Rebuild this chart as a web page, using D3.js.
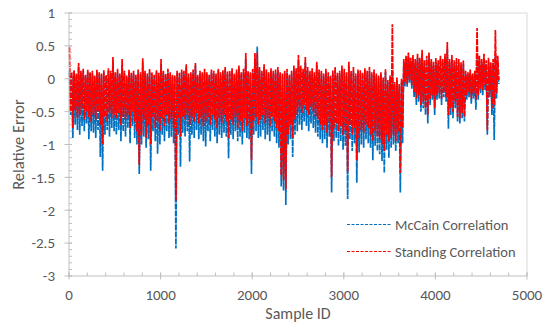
<!DOCTYPE html>
<html>
<head>
<meta charset="utf-8">
<script src="https://cdn.jsdelivr.net/npm/d3@7"></script>
<style>
  body { margin: 0; background: #fff; }
  text { font-family: Carlito, Lato, "Open Sans", sans-serif; fill: #595959; }
</style>
</head>
<body>
<svg id="chart"></svg>
<script>
// sample IDs at the start of each 25-sample bin (0 .. 4675)
const sampleIds = d3.range(0, 4700, 25);

// upper / lower edge of each series inside every bin
const standingHi = [
  0.48, 0.10, 0.13, 0.08, 0.24, 0.12, 0.15, 0.06, 0.14, 0.10,
  0.12, 0.05, 0.14, 0.10, 0.08, 0.13, 0.06, 0.16, 0.12, 0.33,
  0.10, 0.15, 0.08, 0.30, 0.12, 0.05, 0.14, 0.09, 0.12, 0.06,
  0.14, 0.10, 0.31, 0.12, 0.08, 0.15, 0.10, 0.06, 0.13, 0.09,
  0.30, 0.12, 0.08, 0.15, 0.10, 0.06, 0.05, 0.12, 0.09, 0.14,
  0.12, 0.22, 0.08, 0.10, 0.14, 0.24, 0.06, 0.12, 0.10, 0.15,
  0.10, 0.06, 0.14, 0.12, 0.08, 0.15, 0.10, 0.13, 0.18, 0.11,
  0.12, 0.16, 0.08, 0.14, 0.20, 0.10, 0.15, 0.39, 0.12, 0.10,
  0.15, 0.39, 0.40, 0.18, 0.12, 0.22, 0.14, 0.10, 0.16, 0.12,
  0.14, 0.18, 0.10, 0.08, 0.12, 0.15, 0.06, 0.12, 0.20, 0.16,
  0.36, 0.20, 0.15, 0.33, 0.18, 0.12, 0.16, 0.10, 0.26, 0.14,
  0.12, 0.08, 0.15, 0.10, 0.05, 0.13, 0.18, 0.09, 0.12, 0.20,
  0.15, 0.10, 0.26, 0.12, 0.18, 0.08, 0.14, 0.13, 0.10, 0.16,
  0.12, 0.18, 0.10, 0.14, 0.08, 0.05, 0.10, 0.02, 0.15, -0.02,
  0.05, 0.83, -0.05, 0.02, -0.08, 0.00, 0.30, 0.35, 0.40, 0.32,
  0.36, 0.30, 0.38, 0.32, 0.44, 0.28, 0.35, 0.40, 0.30, 0.26,
  0.32, 0.28, 0.35, 0.30, 0.38, 0.56, 0.30, 0.36, 0.28, 0.32,
  0.30, 0.25, 0.28, 0.12, 0.10, 0.14, 0.08, 0.12, 0.77, 0.35,
  0.30, 0.38, 0.28, 0.32, 0.25, 0.30, 0.74, 0.35
];
const standingLo = [
  -0.50, -0.75, -0.48, -0.60, -0.55, -0.45, -0.62, -0.50, -0.58, -0.66,
  -0.55, -0.62, -0.50, -0.70, -1.00, -0.58, -0.65, -0.52, -0.60, -0.55,
  -0.60, -0.52, -0.70, -0.58, -0.62, -0.55, -0.75, -0.50, -0.65, -0.80,
  -1.31, -0.85, -0.62, -0.90, -0.70, -1.00, -0.58, -0.75, -0.65, -0.80,
  -0.60, -0.72, -0.55, -0.68, -0.62, -0.75, -1.85, -0.60, -0.88, -0.58,
  -0.62, -0.55, -0.70, -0.58, -0.65, -0.52, -0.68, -0.60, -0.72, -0.65,
  -0.58, -0.70, -0.55, -0.62, -0.75, -0.60, -0.68, -0.55, -0.65, -0.90,
  -0.62, -0.70, -0.58, -0.75, -0.65, -0.80, -0.60, -0.72, -0.68, -1.24,
  -0.65, -0.58, -0.70, -0.62, -0.55, -0.68, -0.60, -0.72, -0.58, -0.65,
  -0.75, -0.80, -1.47, -1.54, -1.68, -0.85, -0.70, -0.90, -0.62, -0.55,
  -0.45, -0.52, -0.40, -0.48, -0.55, -0.42, -0.50, -0.58, -0.62, -0.70,
  -0.78, -0.70, -0.82, -0.65, -1.50, -0.75, -0.68, -0.80, -0.72, -0.85,
  -0.80, -1.41, -0.70, -0.85, -0.75, -1.24, -0.90, -0.78, -0.82, -0.70,
  -0.75, -0.85, -0.95, -0.80, -0.88, -0.92, -1.00, -1.10, -0.85, -0.95,
  -0.90, -0.85, -0.95, -0.80, -1.43, -0.75, -0.05, -0.08, -0.02, -0.10,
  -0.20, -0.30, -0.25, -0.40, -0.35, -0.45, -0.55, -0.30, -0.25, -0.45,
  -0.25, -0.22, -0.30, -0.20, -0.28, -0.55, -0.45, -0.50, -0.35, -0.58,
  -0.60, -0.52, -0.58, -0.25, -0.20, -0.30, -0.22, -0.32, -0.25, -0.15,
  -0.18, -0.10, -0.78, -0.20, -0.45, -0.40, -0.22, -0.02
];
const mccainHi = [
  0.12, 0.05, 0.10, 0.05, 0.18, 0.08, 0.12, 0.04, 0.10, 0.08,
  0.08, 0.03, 0.10, 0.06, 0.05, 0.10, 0.04, 0.12, 0.08, 0.25,
  0.06, 0.10, 0.05, 0.22, 0.08, 0.02, 0.10, 0.06, 0.08, 0.03,
  0.10, 0.06, 0.25, 0.08, 0.04, 0.10, 0.06, 0.03, 0.10, 0.05,
  0.22, 0.08, 0.05, 0.10, 0.06, 0.03, 0.02, 0.08, 0.05, 0.10,
  0.08, 0.18, 0.05, 0.06, 0.10, 0.20, 0.03, 0.08, 0.06, 0.10,
  0.06, 0.03, 0.10, 0.08, 0.05, 0.12, 0.06, 0.10, 0.14, 0.07,
  0.08, 0.12, 0.05, 0.10, 0.15, 0.06, 0.10, 0.30, 0.08, 0.06,
  0.10, 0.30, 0.49, 0.14, 0.08, 0.18, 0.10, 0.06, 0.12, 0.08,
  0.10, 0.14, 0.06, 0.04, 0.08, 0.10, 0.03, 0.08, 0.15, 0.12,
  0.28, 0.15, 0.10, 0.25, 0.12, 0.08, 0.12, 0.06, 0.20, 0.10,
  0.08, 0.04, 0.10, 0.06, 0.02, 0.08, 0.12, 0.05, 0.08, 0.15,
  0.10, 0.06, 0.20, 0.08, 0.12, 0.04, 0.10, 0.08, 0.06, 0.12,
  0.08, 0.12, 0.06, 0.10, 0.04, 0.02, 0.06, -0.02, 0.10, -0.05,
  0.00, 0.10, -0.10, -0.02, -0.12, -0.05, 0.25, 0.30, 0.35, 0.28,
  0.30, 0.25, 0.32, 0.28, 0.38, 0.22, 0.30, 0.34, 0.25, 0.20,
  0.26, 0.22, 0.30, 0.25, 0.32, 0.45, 0.24, 0.30, 0.22, 0.26,
  0.24, 0.20, 0.22, 0.08, 0.06, 0.10, 0.04, 0.08, 0.30, 0.28,
  0.25, 0.30, 0.22, 0.26, 0.20, 0.24, 0.35, 0.28
];
const mccainLo = [
  -0.55, -0.90, -0.70, -0.78, -0.85, -0.72, -0.80, -0.68, -0.92, -0.80,
  -0.82, -0.90, -0.78, -1.19, -1.40, -0.85, -0.78, -0.88, -0.75, -0.80,
  -0.85, -0.78, -0.95, -0.80, -0.88, -0.75, -0.98, -0.72, -0.90, -1.00,
  -1.45, -1.00, -0.88, -1.05, -0.92, -1.40, -0.80, -0.95, -1.14, -1.00,
  -0.85, -0.95, -0.80, -0.90, -0.88, -0.98, -2.58, -0.85, -1.34, -0.82,
  -0.88, -0.80, -1.26, -0.85, -0.90, -0.78, -0.92, -0.85, -0.95, -1.03,
  -0.80, -0.95, -0.78, -0.88, -0.98, -0.85, -0.90, -0.82, -0.88, -1.21,
  -0.85, -0.92, -0.80, -0.95, -0.88, -1.00, -0.82, -0.90, -0.92, -1.45,
  -0.85, -0.80, -0.90, -0.88, -0.78, -0.92, -0.85, -0.95, -0.80, -0.88,
  -0.98, -1.05, -1.64, -1.70, -1.92, -1.00, -0.92, -1.19, -0.85, -0.80,
  -0.70, -0.78, -0.65, -0.72, -0.80, -0.68, -0.75, -0.82, -0.88, -0.92,
  -0.98, -0.92, -1.05, -0.88, -1.73, -0.95, -0.90, -1.02, -0.95, -1.08,
  -1.02, -1.83, -0.92, -1.10, -0.98, -1.58, -1.12, -1.00, -1.05, -0.92,
  -0.98, -1.05, -1.24, -1.02, -1.10, -1.15, -1.25, -1.43, -1.08, -1.20,
  -1.05, -1.00, -1.10, -0.98, -1.73, -0.98, -0.12, -0.12, -0.06, -0.15,
  -0.28, -0.40, -0.35, -0.50, -0.45, -0.55, -0.68, -0.40, -0.32, -0.55,
  -0.32, -0.30, -0.40, -0.28, -0.35, -0.76, -0.55, -0.60, -0.45, -0.65,
  -0.68, -0.60, -0.65, -0.32, -0.28, -0.38, -0.30, -0.47, -0.32, -0.22,
  -0.25, -0.18, -0.85, -0.28, -0.55, -0.93, -0.30, -0.08
];

const xTicks = [0, 1000, 2000, 3000, 4000, 5000];
const yTicks = [1, 0.5, 0, -0.5, -1, -1.5, -2, -2.5, -3];
const seriesNames = ["McCain Correlation", "Standing Correlation"];
const seriesColors = ["#0070C0", "#FF0000"];

const width = 550, height = 336;
const margin = { top: 13, right: 23, bottom: 60, left: 69 };

const svg = d3.select("#chart")
  .attr("width", width)
  .attr("height", height);

const x = d3.scaleLinear().domain([0, 5000]).range([margin.left, width - margin.right]);
const y = d3.scaleLinear().domain([-3, 1]).range([height - margin.bottom, margin.top]);

// plot frame (top + right)
svg.append("path")
  .attr("d", `M${x(0)},${y(1)}H${x(5000)}V${y(-3)}`)
  .attr("fill", "none")
  .attr("stroke", "#d9d9d9")
  .attr("stroke-width", 1);

// each bin drawn as a zigzag between its upper and lower edge
function binPoints(hi, lo) {
  const pts = [];
  sampleIds.forEach((s, i) => {
    pts.push([s + 5, hi[i]]);
    pts.push([s + 17, lo[i]]);
  });
  return pts;
}

const line = d3.line().x(d => x(d[0])).y(d => y(d[1]));

const plot = svg.append("g");
[[mccainHi, mccainLo], [standingHi, standingLo]].forEach(([hi, lo], k) => {
  plot.append("path")
    .datum(binPoints(hi, lo))
    .attr("fill", "none")
    .attr("stroke", seriesColors[k])
    .attr("stroke-width", 1.7)
    .attr("stroke-linejoin", "bevel")
    .attr("stroke-dasharray", "6,1")
    .attr("d", line);
});

// axes
const axisColor = "#bfbfbf";
const gx = svg.append("g").attr("transform", `translate(0,${y(-3)})`);
gx.append("line").attr("x1", x(0)).attr("x2", x(5000)).attr("stroke", axisColor);
gx.selectAll(".minor")
  .data(d3.range(0, 5001, 200))
  .join("line")
  .attr("x1", d => x(d)).attr("x2", d => x(d))
  .attr("y1", -3.5).attr("y2", 0)
  .attr("stroke", axisColor);
gx.selectAll(".major")
  .data(xTicks)
  .join("line")
  .attr("x1", d => x(d)).attr("x2", d => x(d))
  .attr("y1", -3.5).attr("y2", 3.5)
  .attr("stroke", axisColor);
gx.selectAll("text")
  .data(xTicks)
  .join("text")
  .attr("x", d => x(d))
  .attr("y", 24)
  .attr("text-anchor", "middle")
  .style("font-size", "15px")
  .text(d => d);

const gy = svg.append("g").attr("transform", `translate(${x(0)},0)`);
gy.append("line").attr("y1", y(1)).attr("y2", y(-3)).attr("stroke", axisColor);
gy.selectAll(".minor")
  .data(d3.range(-30, 11, 1).map(d => d / 10))
  .join("line")
  .attr("y1", d => y(d)).attr("y2", d => y(d))
  .attr("x1", 0).attr("x2", 3)
  .attr("stroke", axisColor);
gy.selectAll(".major")
  .data(yTicks)
  .join("line")
  .attr("y1", d => y(d)).attr("y2", d => y(d))
  .attr("x1", -4.5).attr("x2", 3)
  .attr("stroke", axisColor);
gy.selectAll("text")
  .data(yTicks)
  .join("text")
  .attr("x", -14)
  .attr("y", d => y(d))
  .attr("dy", "0.35em")
  .attr("text-anchor", "end")
  .style("font-size", "15px")
  .text(d => d);

// axis titles
svg.append("text")
  .attr("x", (x(0) + x(5000)) / 2)
  .attr("y", 319)
  .attr("text-anchor", "middle")
  .style("font-size", "16px")
  .text("Sample ID");

svg.append("text")
  .attr("transform", `translate(24,${(y(1) + y(-3)) / 2}) rotate(-90)`)
  .attr("text-anchor", "middle")
  .style("font-size", "16.5px")
  .text("Relative Error");

// legend
const legend = svg.append("g");
seriesNames.forEach((name, k) => {
  const ly = 224.5 + k * 27;
  legend.append("line")
    .attr("x1", 347).attr("x2", 392)
    .attr("y1", ly).attr("y2", ly)
    .attr("stroke", seriesColors[k])
    .attr("stroke-width", 1.2)
    .attr("stroke-dasharray", "3,1.5");
  legend.append("text")
    .attr("x", 395)
    .attr("y", ly)
    .attr("dy", "0.35em")
    .style("font-size", "14.5px")
    .text(name);
});
</script>
</body>
</html>
